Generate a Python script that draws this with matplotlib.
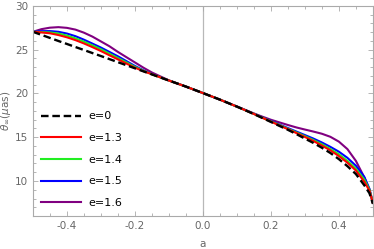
import matplotlib
matplotlib.use("Agg")
import matplotlib.pyplot as plt
from matplotlib.ticker import MultipleLocator

a_vals = [-0.5, -0.475, -0.45, -0.425, -0.4, -0.375, -0.35, -0.325, -0.3, -0.275,
          -0.25, -0.225, -0.2, -0.175, -0.15, -0.125, -0.1, -0.05, 0.0, 0.05,
          0.1, 0.125, 0.15, 0.175, 0.2, 0.225, 0.25, 0.275, 0.3, 0.325,
          0.35, 0.375, 0.4, 0.425, 0.45, 0.475, 0.49, 0.5]

theta_e0 = [27.05, 26.7, 26.35, 26.0, 25.66, 25.31, 24.97, 24.62, 24.28, 23.93,
            23.58, 23.23, 22.88, 22.53, 22.18, 21.83, 21.48, 20.79, 20.05, 19.3,
            18.5, 18.08, 17.65, 17.2, 16.75, 16.3, 15.85, 15.36, 14.85, 14.35,
            13.8, 13.2, 12.5, 11.7, 10.8, 9.5, 8.6, 7.4]

theta_e13 = [27.05, 26.98, 26.88, 26.68, 26.42, 26.1, 25.72, 25.3, 24.85, 24.37,
             23.9, 23.42, 22.95, 22.55, 22.2, 21.84, 21.48, 20.79, 20.05, 19.3,
             18.5, 18.08, 17.66, 17.22, 16.79, 16.35, 15.92, 15.48, 15.03, 14.57,
             14.05, 13.5, 12.85, 12.1, 11.2, 9.9, 8.9, 7.5]

theta_e14 = [27.05, 27.02, 26.98, 26.85, 26.62, 26.3, 25.92, 25.5, 25.05, 24.55,
             24.05, 23.55, 23.05, 22.6, 22.2, 21.84, 21.48, 20.79, 20.05, 19.3,
             18.5, 18.08, 17.67, 17.24, 16.82, 16.4, 15.97, 15.55, 15.12, 14.68,
             14.2, 13.65, 13.05, 12.3, 11.4, 10.15, 9.0, 7.5]

theta_e15 = [27.05, 27.12, 27.13, 27.05, 26.85, 26.55, 26.15, 25.7, 25.25, 24.75,
             24.25, 23.7, 23.15, 22.65, 22.22, 21.85, 21.48, 20.79, 20.05, 19.3,
             18.5, 18.09, 17.68, 17.27, 16.87, 16.45, 16.05, 15.65, 15.25, 14.85,
             14.4, 13.9, 13.35, 12.65, 11.75, 10.45, 9.1, 7.5]

theta_e16 = [27.05, 27.35, 27.52, 27.58, 27.5, 27.3, 26.95, 26.5, 25.95, 25.4,
             24.75, 24.15, 23.55, 22.95, 22.4, 21.95, 21.5, 20.79, 20.05, 19.3,
             18.52, 18.12, 17.72, 17.35, 17.0, 16.7, 16.4, 16.12, 15.88, 15.65,
             15.4, 15.05, 14.5, 13.65, 12.3, 10.4, 9.0, 7.5]

labels = ["e=0", "e=1.3", "e=1.4", "e=1.5", "e=1.6"]
colors = ["black", "#ff0000", "#22ee22", "#0000ff", "#800080"]
x_ticks = [-0.4, -0.2, 0.0, 0.2, 0.4]
y_ticks = [10, 15, 20, 25, 30]

fig = plt.figure(figsize=(3.74, 2.49), dpi=100)
ax = fig.add_axes([0.088, 0.1325, 0.909, 0.8435])

ax.axvline(0, color="#b8b8b8", lw=0.9, zorder=0)

series = [theta_e0, theta_e13, theta_e14, theta_e15, theta_e16]
handles = [None] * 5
for i in [4, 3, 2, 1]:
    handles[i], = ax.plot(a_vals, series[i], color=colors[i], lw=1.5, label=labels[i])
handles[0], = ax.plot(a_vals, series[0], color="black", lw=1.7, ls=(0, (3.2, 1.6)), label=labels[0])

ax.set_xlim(-0.5, 0.5)
ax.set_ylim(6, 30)
ax.set_xticks(x_ticks)
ax.set_xticklabels([f"{t:.1f}" for t in x_ticks])
ax.set_yticks(y_ticks)
ax.xaxis.set_minor_locator(MultipleLocator(0.05))
ax.yaxis.set_minor_locator(MultipleLocator(1))
ax.tick_params(which="both", direction="in", top=True, right=True, color="#aaaaaa",
               labelcolor="#666666", labelsize=7.5, width=0.6)
ax.tick_params(which="major", length=3.5)
ax.tick_params(which="minor", length=2)
for s in ax.spines.values():
    s.set_color("#aaaaaa")
    s.set_linewidth(0.8)

ax.set_xlabel("a", color="#666666", fontsize=7.5, labelpad=6)
ax.set_ylabel(r"$\theta_{\infty}(\mu\mathrm{as})$", color="#666666", fontsize=7.5, labelpad=1)

leg = ax.legend(handles=handles, loc="upper left", bbox_to_anchor=(0.0, 0.535),
                frameon=False, fontsize=8, handlelength=3.6, labelspacing=1.05,
                handletextpad=0.7, borderaxespad=0.3)

fig.savefig("out.png", dpi=100)
